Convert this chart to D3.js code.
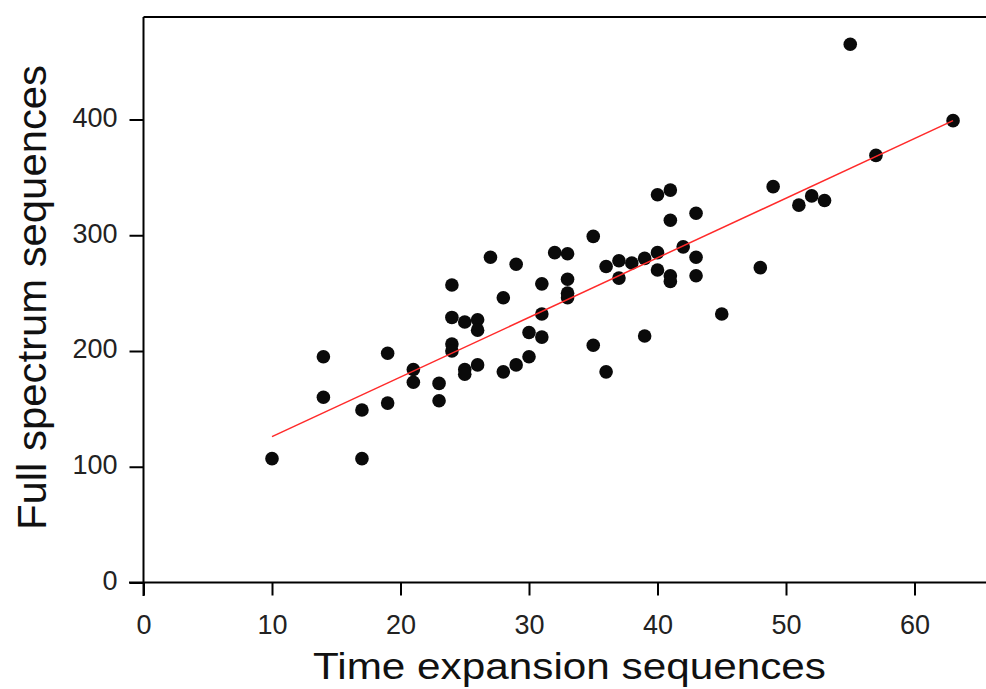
<!DOCTYPE html>
<html>
<head>
<meta charset="utf-8">
<script src="https://cdn.jsdelivr.net/npm/d3@7/dist/d3.min.js"></script>
<style>
  html, body { margin: 0; padding: 0; background: #fff; }
  svg { display: block; }
  text { font-family: "Liberation Sans", Arial, sans-serif; }
</style>
</head>
<body>
<svg id="chart" width="986" height="689"></svg>
<script>
// Data
const timeExpansion = [10,14,14,17,17,19,19,21,21,23,23,24,24,24,24,25,25,25,26,26,26,27,28,28,29,29,30,30,31,31,31,32,33,33,33,33,35,35,36,36,37,37,38,39,39,40,40,40,41,41,41,41,42,43,43,43,45,48,49,51,52,53,55,57,63];
const fullSpectrum = [107,195,160,149,107,198,155,184,173,172,157,257,229,206,200,225,184,180,227,218,188,281,246,182,275,188,216,195,258,232,212,285,284,262,250,246,299,205,273,182,278,263,276,280,213,335,285,270,339,313,265,260,290,319,281,265,232,272,342,326,334,330,465,369,399];
// Fitted regression line end points
const fitX = [10, 63];
const fitY = [126, 399];
const xTicks = [0,10,20,30,40,50,60];
const yTicks = [0,100,200,300,400];

const svg = d3.select("#chart");
const x = d3.scaleLinear().domain([0, 60]).range([143.5, 914.5]);
const y = d3.scaleLinear().domain([0, 400]).range([582.5, 119.5]);

// top frame line
svg.append("line")
  .attr("x1", x(0)).attr("x2", 986)
  .attr("y1", 17).attr("y2", 17)
  .attr("stroke", "#000").attr("stroke-width", 2);

// X axis
const xAxis = svg.append("g")
  .attr("transform", `translate(0,${y(0)})`)
  .call(d3.axisBottom(x).tickValues(xTicks).tickSize(13).tickPadding(19).tickFormat(d3.format("d")));
xAxis.select(".domain").remove();
xAxis.append("line").attr("x1", 129).attr("x2", 986).attr("y1", 0).attr("y2", 0)
  .attr("stroke", "#000").attr("stroke-width", 2);
xAxis.selectAll(".tick line").attr("stroke", "#000").attr("stroke-width", 2);
xAxis.selectAll(".tick text").attr("fill", "#222").style("font-size", "27px")
  .style("font-family", '"Liberation Sans", Arial, sans-serif');

// Y axis
const yAxis = svg.append("g")
  .attr("transform", `translate(${x(0)},0)`)
  .call(d3.axisLeft(y).tickValues(yTicks).tickSize(14).tickPadding(12).tickFormat(d3.format("d")));
yAxis.select(".domain").remove();
yAxis.append("line").attr("x1", 0).attr("x2", 0).attr("y1", 17).attr("y2", 596)
  .attr("stroke", "#000").attr("stroke-width", 2);
yAxis.selectAll(".tick line").attr("stroke", "#000").attr("stroke-width", 2);
yAxis.selectAll(".tick text").attr("fill", "#222").attr("dy", "0.25em").style("font-size", "27px")
  .style("font-family", '"Liberation Sans", Arial, sans-serif');

// Points
const pts = timeExpansion.map((d, i) => ({x: d, y: fullSpectrum[i]}));
svg.append("g").selectAll("circle").data(pts).join("circle")
  .attr("cx", d => x(d.x)).attr("cy", d => y(d.y)).attr("r", 6.8)
  .attr("fill", "#0a0a0a");

// Regression line
svg.append("line")
  .attr("x1", x(fitX[0])).attr("y1", y(fitY[0]))
  .attr("x2", x(fitX[1])).attr("y2", y(fitY[1]))
  .attr("stroke", "#ff2a2a").attr("stroke-width", 1.5);

// Axis titles
svg.append("text")
  .attr("x", 569.5).attr("y", 679)
  .attr("text-anchor", "middle")
  .style("font-size", "37px").attr("fill", "#111")
  .attr("textLength", 513).attr("lengthAdjust", "spacingAndGlyphs")
  .text("Time expansion sequences");

svg.append("text")
  .attr("transform", "translate(46,297.5) rotate(-90)")
  .attr("text-anchor", "middle")
  .style("font-size", "41px").attr("fill", "#111")
  .attr("textLength", 465).attr("lengthAdjust", "spacingAndGlyphs")
  .text("Full spectrum sequences");
</script>
</body>
</html>
